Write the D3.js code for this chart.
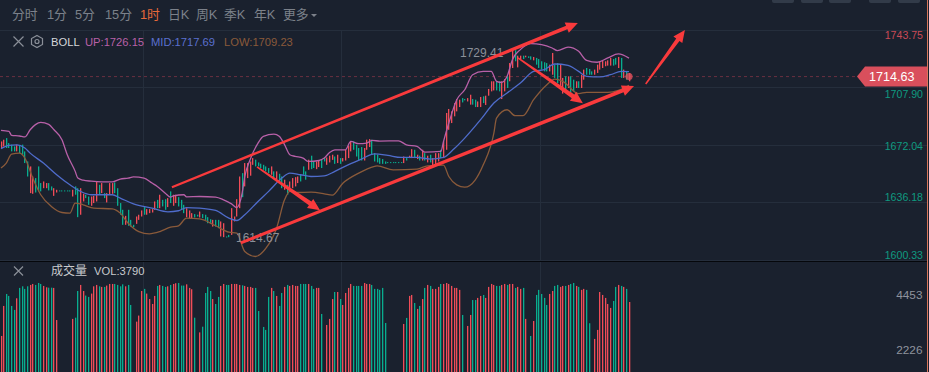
<!DOCTYPE html>
<html>
<head>
<meta charset="utf-8">
<script src="https://cdnjs.cloudflare.com/ajax/libs/d3/7.8.5/d3.min.js"></script>
<style>
  html, body { margin: 0; padding: 0; background: #1a212e; overflow: hidden; }
  text { font-family: "Liberation Sans", "Noto Sans CJK SC", sans-serif; }
</style>
</head>
<body>
<div id="chart"></div>
<script>
const tabs = ["分时", "1分", "5分", "15分", "1时", "日K", "周K", "季K", "年K", "更多"];
const activeTab = "1时";
const priceTicks = [1743.75, 1707.90, 1672.04, 1636.18, 1600.33];
const volumeTicks = [4453, 2226];
const lastPrice = 1714.63;
const maxLabel = "1729.41";
const minLabel = "1614.67";
const legendUp = "UP:1726.15";
const legendMid = "MID:1717.69";
const legendLow = "LOW:1709.23";
const volumeLabel = "VOL:3790";

// 1 = red candle, 0 = green candle
const candleDir = [
  1,1,0,0,0,0,1,0,0,0, 0,1,1,0,0,0,1,1,0,0, 1,1,0,0,0,0,0,1,0,0,
  1,1,0,0,1,1,1,0,1,0, 1,1,1,0,0,0,0,1,0,0, 0,1,1,1,0,1,1,1,1,0,
  1,0,0,1,0,1,1,0,0,0, 1,1,1,0,0,1,0,0,0,0, 1,0,0,1,1,0,0,1,1,1,
  1,0,1,1,1,1,0,0,0,0, 0,0,1,0,1,0,0,1,0,1, 1,1,1,0,0,0,1,0,0,1,
  1,0,0,1,1,1,0,1,0,1, 1,1,1,0,0,0,0,1,1,1, 0,0,0,0,0,0,0,0,0,0,
  0,0,1,0,1,1,0,1,0,1, 0,1,0,1,1,1,0,1,1,1, 1,1,1,1,0,0,1,1,0,0,
  1,1,0,1,1,1,1,0,0,1, 1,0,1,1,0,1,1,0,1,0, 0,1,0,0,0,0,0,1,1,0,
  0,1,1,0,1,0,0,1,0,1, 1,0,0,0,1,1,1,1,1,1, 1,0,0,1,0,1,0,1
];

const candleHigh = [
  1674.1,1675.2,1676.2,1673.1,1672.1,1671,1672.1,1671.4,1672.1,1667.9,
  1661.6,1658.5,1652.2,1651.2,1658.5,1648.1,1649.1,1648.1,1648.1,1646,
  1644.9,1643.9,1643.5,1643.5,1643.5,1643.5,1643.5,1643.9,1646,1644.9,
  1644.9,1641.4,1640.8,1639.7,1639.7,1640.1,1649.1,1647,1648.1,1641.8,
  1641.8,1648.1,1648.1,1648.5,1644.9,1635.6,1631.4,1627.6,1631.4,1625.1,
  1622,1627.2,1628.3,1631,1633.1,1631.8,1631.8,1631.8,1636.6,1637.6,
  1640.8,1637.6,1638,1638.7,1642.9,1640.8,1640.8,1639.3,1637.6,1634.5,
  1632.4,1631,1629.3,1628.7,1628.3,1630.3,1628.7,1628.3,1626.8,1625.5,
  1625.1,1625.1,1625.1,1624.1,1623,1614.7,1615.7,1632.4,1627.2,1638,
  1652.2,1654.3,1660.6,1660.6,1661.6,1663.7,1662.7,1661,1660.2,1659.5,
  1658.5,1657.5,1658.5,1655.4,1655.4,1653.9,1652.2,1650.2,1647,1649.1,
  1651.2,1651.8,1652.2,1653.3,1658.5,1655.4,1662.7,1665.2,1661.6,1661.6,
  1662.2,1663.1,1663.7,1664.1,1665.2,1665.8,1664.7,1665.8,1663.7,1663.7,
  1668.9,1671.4,1674.1,1674.1,1672,1670,1670.6,1670,1675.2,1675.6,
  1675.2,1666.8,1665.8,1663.7,1663.1,1661.6,1661.2,1661.2,1661.2,1661.2,
  1661.2,1661.2,1664.7,1663.7,1665.2,1669.3,1668.9,1665.8,1665.2,1668.9,
  1666.8,1665.2,1665.8,1663.7,1666.8,1666.8,1668.9,1674.1,1691.9,1694.4,
  1692.9,1698.1,1700.6,1700.2,1701.2,1700.6,1701.2,1703.3,1700.6,1700.2,
  1699.1,1701.9,1702.3,1702.7,1706.9,1711.7,1711.7,1711.7,1711.7,1711.7,
  1713.1,1714.8,1723.1,1731.1,1731.1,1727.7,1727.7,1727.7,1727.7,1727.3,
  1727.3,1726.9,1726.3,1725.6,1724.2,1723.6,1723.1,1722.1,1729.4,1722.1,
  1723.1,1722.1,1713.8,1714.8,1714.8,1714.8,1712.7,1711.7,1711.7,1715.8,
  1719,1720,1719.4,1717.9,1719,1722.1,1724.2,1724.8,1724.2,1724.8,
  1726.3,1725.6,1726.3,1726.9,1726.3,1719,1717.9,1716.9
];

const candleLow = [
  1670,1671,1670,1670,1667.9,1667.9,1667.9,1666.8,1665.8,1660.6,
  1652.2,1641.8,1641.4,1642.2,1642.9,1642.9,1644.9,1644.9,1643.5,1643.5,
  1640.1,1642.2,1643.1,1643.1,1643.1,1643.1,1643.1,1639.7,1640.8,1626.8,
  1628.3,1636.6,1638.7,1634.5,1633.9,1635.6,1636.6,1640.8,1641.8,1638.7,
  1636,1640.8,1641.4,1641.8,1633.9,1628.3,1622,1622,1621.4,1620.9,
  1620.5,1622.6,1625.1,1627.2,1628.3,1628.3,1629.3,1629.7,1631.4,1632.4,
  1632.4,1633.5,1631.4,1633.1,1635.6,1633.9,1635.6,1633.5,1631.8,1629.3,
  1626.8,1626.2,1626.2,1626.6,1627.2,1626.6,1626.2,1625.1,1623,1622.6,
  1620.9,1620.9,1619.9,1614.7,1614.3,1614.1,1614.3,1615.7,1624.1,1627.2,
  1632.4,1639.3,1646,1651.2,1652.7,1659.5,1658.5,1658.5,1657.5,1656.4,
  1655.4,1654.3,1653.3,1651.2,1650.6,1649.1,1644.9,1643.9,1640.8,1642.9,
  1644.9,1646,1648.1,1649.1,1653.3,1650.2,1656.4,1656.8,1657.5,1656.8,
  1658.1,1657.5,1661.6,1659.5,1661,1662.6,1660.1,1660.6,1660.1,1661.6,
  1662.2,1663.7,1667.9,1668.9,1664.7,1662.2,1662.2,1662.2,1668.9,1670.6,
  1665.8,1661.6,1661,1660.1,1660.1,1660.1,1660.8,1660.8,1660.8,1660.8,
  1660.8,1660.8,1660.6,1662.2,1663.7,1663.7,1663.7,1663.1,1662.2,1662.2,
  1662.2,1661,1661,1658.9,1659.5,1661.6,1663.7,1663.7,1668.9,1681.4,
  1685.6,1689.8,1692.9,1695.6,1698.5,1699.8,1699.1,1697.1,1697.1,1695.6,
  1695.6,1695.6,1698.1,1696.9,1702.7,1705.4,1706,1706,1705.4,1700.6,
  1705.4,1707.5,1711.7,1720,1724.2,1720.4,1725.6,1725.6,1726.7,1726.3,
  1725.2,1724.8,1722.1,1720,1719,1717.9,1717.9,1717.9,1715.8,1713.8,
  1710.6,1707.5,1704,1705.4,1707.5,1704.4,1705.4,1707.5,1707.5,1707.5,
  1712.7,1715.8,1715.8,1715.8,1715.8,1716.9,1719,1720,1721.1,1721.5,
  1721.5,1721.5,1722.1,1720,1713.8,1713.8,1712.7,1711.7
];

const volumes = [
  2795,4010,4495,4415,4010,3850,4320,4740,4805,4700,
  4805,4860,4900,4860,4940,4900,4820,4765,4750,4750,
  4740,3440,900,900,900,900,900,3485,3535,4615,
  4860,4615,4430,4375,4510,4805,4860,4805,4780,4780,
  4835,4900,4900,4900,4860,4805,4885,4805,4860,4050,
  900,3375,3620,4615,4700,4510,4290,4090,4415,4820,
  4860,4820,4780,4805,4860,4900,4930,4940,4835,4835,
  4885,4740,4685,3535,900,2940,3170,4535,4780,4615,
  4290,4090,4375,4820,4900,4860,4860,4900,4900,4900,
  4860,4845,4820,4780,4780,4740,4740,3805,900,3160,
  3040,4375,4740,4615,4415,4010,4535,4780,4860,4820,
  4860,4820,4820,4900,4900,4900,4900,4820,4700,4740,
  4740,3685,900,3240,3485,4290,4575,4575,4290,4050,
  4535,4740,4900,4820,4820,4820,4820,4940,4900,4900,
  4860,4700,4700,4660,4740,3320,900,900,900,900,
  900,900,3280,3525,4415,4455,4130,3890,4010,4290,
  4740,4860,4820,4700,4700,4780,4900,4900,4940,4900,
  4820,4740,4740,4660,3645,900,3200,3645,4250,4250,
  4335,4415,4455,4335,4780,4900,4860,4820,4820,4860,
  4900,4860,4900,4900,4740,4780,4700,4740,3485,900,
  2795,3400,4455,4660,4495,4335,4050,4495,4615,4820,
  4860,4780,4820,4820,4860,4900,4940,4820,4780,4660,
  4700,4660,3310,900,2675,3040,4575,4455,4335,4090,
  3930,4210,4780,4860,4820,4780,4700,4170
];

// bollinger lines, read at the candle numbers in the *Idx arrays
const upperIdx = [0,3,4,7,9,11,13,15,18,20,23,25,28,29,31,34,38,42,45,48,50,54,57,59,62,64,65,69,70,75,81,84,87,89,91,92,94,97,99,103,105,107,109,111,114,116,120,122,124,126,130,132,135,138,140,143,150,153,157,160,166,167,169,172,175,178,182,185,187,189,191,193,196,200,204,208,210,214,218,221,225,229,233,237];
const upper = [1681,1680.4,1677.9,1677.5,1676.9,1681.4,1684.6,1686,1684.8,1681.4,1675.2,1665.8,1655.4,1651.2,1649.9,1649.3,1648.9,1648.9,1650.6,1651.2,1652,1651.2,1648.1,1646,1641.8,1639.3,1640.1,1640.8,1639.5,1639.7,1639.3,1637.6,1635.1,1632.8,1641.8,1652.2,1662.7,1673.1,1677.3,1678.7,1677.3,1672.1,1665.8,1664.8,1663.7,1661.6,1662.2,1663.7,1667.2,1668.9,1668.9,1674.1,1672.7,1673.1,1674.8,1674.3,1674.5,1672,1671,1667.4,1667.9,1674.1,1685.6,1700.2,1706.4,1715.8,1717.9,1717.9,1711.7,1711,1714.8,1725.2,1731.5,1735.2,1734.6,1732.5,1730.9,1733.1,1730.4,1724.8,1723.6,1726.3,1728.8,1726.15];

const midIdx = [0,3,6,9,11,16,21,26,30,34,42,45,50,57,63,67,70,75,81,86,89,92,97,101,106,109,113,117,122,126,131,136,141,146,151,157,162,167,171,175,181,186,191,196,201,205,209,214,218,221,226,230,234,237];
const mid = [1669.6,1671.6,1672,1670,1666.8,1660.6,1653.3,1647,1642.9,1640.8,1640.8,1638.7,1635.1,1632.4,1630.1,1630.8,1632.8,1632.4,1631,1626.2,1624.7,1628.3,1636.6,1642.9,1651.2,1654.3,1653.3,1652.2,1652.6,1655.4,1659.5,1663.1,1666.4,1665.4,1664.1,1664.1,1663.1,1664.1,1669.5,1676.2,1687.7,1698.1,1704.4,1710.6,1717.9,1719,1722.5,1721.7,1717.9,1714.8,1714.4,1715.8,1717.9,1717.69];

const lowerIdx = [0,2,4,7,9,12,15,19,23,26,28,31,35,42,45,48,52,56,60,64,67,70,75,81,86,89,92,96,100,104,107,109,112,117,122,125,129,135,141,142,148,157,161,167,169,172,175,179,182,186,187,191,194,197,201,206,209,212,218,221,229,233,237];
const lower = [1657.5,1660.6,1666.2,1666.8,1663.7,1651.2,1640.8,1633.5,1629.7,1629.3,1635.6,1634.5,1632.4,1632,1629.3,1623,1617.8,1616.4,1617.8,1620.5,1621.4,1626.2,1625.7,1621.4,1617.4,1616.8,1605.3,1602.2,1607.4,1619.9,1637.6,1642.9,1642.2,1642.4,1641.4,1640.5,1648,1654.3,1658.5,1658.9,1656.4,1656.8,1658.9,1659.3,1652.2,1647,1645.5,1650.1,1659.5,1679.3,1688.7,1693.9,1690.2,1690.2,1700.2,1709.6,1713.1,1711.7,1704,1704.8,1704.8,1706,1709.23];

// hand drawn annotations, in candle number / price
const arrowStartCandle = [64.5, 90.5, 96.6, 195.1, 243.3];
const arrowStartPrice = [1645.5, 1610.7, 1658.2, 1726.4, 1710];
const arrowEndCandle = [217.7, 238.9, 120.4, 219.6, 258.1];
const arrowEndPrice = [1748.1, 1708.7, 1631.1, 1698, 1743.75];
const arrowTailWidth = [2.2, 3, 1.5, 1.5, 1.5];
const arrowBodyWidth = [3.6, 3.6, 4.5, 4.5, 4];

const gridCandles = [53.6, 128.3, 203.4];

const width = 929, height = 372;
const bg = "#1a212e", gridColor = "#252e3c";
const red = "#f04c58", green = "#08ad8f", arrowRed = "#f93a3c";

const svg = d3.select("#chart").append("svg")
    .attr("width", width)
    .attr("height", height)
    .style("display", "block");

svg.append("rect").attr("width", width).attr("height", height).attr("fill", bg);

const x = d3.scaleLinear().domain([0, 237]).range([1, 629]);
const y = d3.scaleLinear().domain([1743.75, 1600.33]).range([30, 259.5]);
const yVol = d3.scaleLinear().domain([0, 4453]).range([405, 295]);

// grid
svg.append("g").selectAll("line").data(priceTicks).enter().append("line")
    .attr("x1", 0).attr("x2", 927)
    .attr("y1", d => Math.round(y(d)) + .5).attr("y2", d => Math.round(y(d)) + .5)
    .attr("stroke", gridColor);

svg.append("g").selectAll("line").data(gridCandles).enter().append("line")
    .attr("x1", d => Math.round(x(d)) + .5).attr("x2", d => Math.round(x(d)) + .5)
    .attr("y1", 30).attr("y2", height)
    .attr("stroke", gridColor);

// panel divider
svg.append("line").attr("x1", 0).attr("x2", 927).attr("y1", 261.5).attr("y2", 261.5)
    .attr("stroke", "#05070b").attr("stroke-width", 1.2);

// last price line
svg.append("line").attr("x1", 0).attr("x2", 858)
    .attr("y1", y(lastPrice)).attr("y2", y(lastPrice))
    .attr("stroke", "#6a3040").attr("stroke-dasharray", "3,3");

// candles, snapped so they stay thin
const snap = v => Math.round(v - .5);
svg.append("g").selectAll("rect").data(candleHigh).enter().append("rect")
    .attr("x", (d, i) => snap(x(i)))
    .attr("width", 1.3)
    .attr("y", d => y(d))
    .attr("height", (d, i) => Math.max(1, y(candleLow[i]) - y(d)))
    .attr("fill", (d, i) => candleDir[i] ? red : green);

// volume
svg.append("g").selectAll("rect").data(volumes).enter().append("rect")
    .attr("x", (d, i) => snap(x(i)))
    .attr("width", 1.3)
    .attr("y", d => yVol(d))
    .attr("height", d => Math.max(0, yVol(0) - yVol(d)))
    .attr("fill", (d, i) => candleDir[i] ? red : green);

// bollinger lines
const bandLine = (idx) => d3.line()
    .x((d, i) => x(idx[i]))
    .y(d => y(d))
    .curve(d3.curveMonotoneX);

const drawBand = (idx, vals, color) => {
  svg.append("path").attr("d", bandLine(idx)(vals))
      .attr("fill", "none").attr("stroke", color).attr("stroke-width", 1.3);
};
drawBand(upperIdx, upper, "#b860a8");
drawBand(midIdx, mid, "#4f6ccb");
drawBand(lowerIdx, lower, "#8a5a3a");

// high / low labels
svg.append("text").attr("x", 460).attr("y", y(1729.41) + 4).attr("fill", "#8b9099")
    .attr("font-size", 12).text(maxLabel);
svg.append("text").attr("x", 236).attr("y", y(1614.67) + 5.5).attr("fill", "#8b9099")
    .attr("font-size", 12).text(minLabel);

// arrows
arrowStartCandle.forEach((c, i) => {
  const x0 = x(c), y0 = y(arrowStartPrice[i]);
  const x1 = x(arrowEndCandle[i]), y1 = y(arrowEndPrice[i]);
  const len = Math.hypot(x1 - x0, y1 - y0);
  const ux = (x1 - x0) / len, uy = (y1 - y0) / len;
  const nx = -uy, ny = ux;
  const headLen = 12, headW = 5.5;
  const bx = x1 - ux * headLen, by = y1 - uy * headLen;
  const t = arrowTailWidth[i] / 2, b = arrowBodyWidth[i] / 2;
  const pts = [
    [x0 + nx * t, y0 + ny * t],
    [bx + nx * b, by + ny * b],
    [bx + nx * headW, by + ny * headW],
    [x1, y1],
    [bx - nx * headW, by - ny * headW],
    [bx - nx * b, by - ny * b],
    [x0 - nx * t, y0 - ny * t]
  ];
  svg.append("polygon").attr("points", pts.map(p => p.join(",")).join(" ")).attr("fill", arrowRed);
});

// last price dot
svg.append("circle").attr("cx", x(237)).attr("cy", y(lastPrice)).attr("r", 3.6)
    .attr("fill", "#e0505c").attr("fill-opacity", .8);

// toolbar
const tabX = [12, 47, 75, 105, 140, 168, 196, 224, 254, 283];
svg.append("g").selectAll("text").data(tabs).enter().append("text")
    .attr("x", (d, i) => tabX[i])
    .attr("y", 19)
    .attr("font-size", 12.8)
    .attr("fill", d => d === activeTab ? "#e8693a" : "#7c818a")
    .text(d => d);
svg.append("path").attr("d", "M311,14h6l-3,3z").attr("fill", "#7c818a");

// top right buttons
[772, 801, 829, 869, 898].forEach(b => {
  svg.append("rect").attr("x", b).attr("y", -4).attr("width", 22).attr("height", 7)
      .attr("rx", 2).attr("fill", "#323b49");
});

// legend
const closeIcon = (cx, cy, r) => {
  svg.append("path").attr("d", `M${cx - r},${cy - r}L${cx + r},${cy + r}M${cx + r},${cy - r}L${cx - r},${cy + r}`)
      .attr("stroke", "#8a8f98").attr("stroke-width", 1.2);
};
closeIcon(18.5, 41.5, 5);
closeIcon(18.5, 271, 4.5);
svg.append("path").attr("d", "M37,35.5L42.5,38.5V44.5L37,47.5L31.5,44.5V38.5Z")
    .attr("fill", "none").attr("stroke", "#8a8f98").attr("stroke-width", 1.2);
svg.append("circle").attr("cx", 37).attr("cy", 41.5).attr("r", 2)
    .attr("fill", "none").attr("stroke", "#8a8f98").attr("stroke-width", 1.2);

const legendTexts = ["BOLL", legendUp, legendMid, legendLow];
const legendX = [51, 85, 151, 224];
const legendColors = ["#d5d7da", "#b860a8", "#5a70cf", "#8a5a3a"];
svg.append("g").selectAll("text").data(legendTexts).enter().append("text")
    .attr("x", (d, i) => legendX[i])
    .attr("y", 45.5)
    .attr("font-size", 11.2)
    .attr("fill", (d, i) => legendColors[i])
    .text(d => d);

svg.append("text").attr("x", 51).attr("y", 275).attr("font-size", 12)
    .attr("fill", "#c8cacd").text("成交量");
svg.append("text").attr("x", 94).attr("y", 275).attr("font-size", 11.2)
    .attr("fill", "#c8cacd").text(volumeLabel);

// price axis
const priceLabelShift = [5, 6, 1, -5, -4.5];
const yAxis = d3.axisRight(y).tickValues(priceTicks).tickSize(0).tickFormat(d3.format(".2f"));
const axisG = svg.append("g").attr("transform", "translate(885,0)").call(yAxis);
axisG.select(".domain").remove();
axisG.selectAll("text")
    .attr("x", 38)
    .attr("text-anchor", "end")
    .attr("dy", (d, i) => (priceLabelShift[i] + 3.8) + "px")
    .attr("font-size", 10.6)
    .attr("font-family", "Liberation Sans")
    .attr("fill", (d, i) => i === 0 ? "#c94a56" : "#0f9a80");

// volume axis
const volAxis = d3.axisRight(yVol).tickValues(volumeTicks).tickSize(0).tickFormat(d3.format("d"));
const volG = svg.append("g").attr("transform", "translate(885,0)").call(volAxis);
volG.select(".domain").remove();
volG.selectAll("text")
    .attr("x", 37.5)
    .attr("text-anchor", "end")
    .attr("font-size", 11.8)
    .attr("font-family", "Liberation Sans")
    .attr("fill", "#8f939d");

// last price tag
const ty = y(lastPrice);
svg.append("path")
    .attr("d", `M857,${ty}L865,${ty - 10}H927.5V${ty + 10}H865Z`)
    .attr("fill", "#d94f5c");
svg.append("text").attr("x", 869).attr("y", ty + 4.5).attr("font-size", 12.6)
    .attr("fill", "#fff").text(d3.format(".2f")(lastPrice));

// right edge
svg.append("rect").attr("x", 927).attr("y", 0).attr("width", 1).attr("height", height)
    .attr("fill", "#d9775c");
</script>
</body>
</html>
